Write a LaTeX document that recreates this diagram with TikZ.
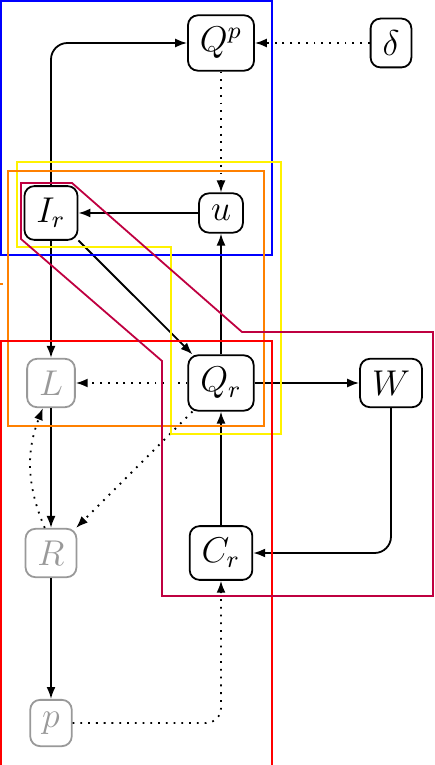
\documentclass[tikz,border=0pt]{standalone}
\usetikzlibrary{arrows.meta}
\begin{document}
\begin{tikzpicture}[x=0.0117647cm, y=0.0117647cm,
  box/.style={draw, semithick, rounded corners=3.3pt, inner sep=4pt, font=\large},
  ghost/.style={box, draw=black!40, text=black!40},
  arr/.style={-{Latex[length=4pt,width=3pt]}, semithick},
  dot/.style={arr, dotted},
  encl/.style={semithick}]
\useasboundingbox (0,0) rectangle (434,-765);
% nodes
\node[box] (Qp) at (221,-43) {$Q^p$};
\node[box] (d) at (391,-43) {$\delta$};
\node[box] (Ir) at (51,-213) {$I_r$};
\node[box] (u) at (221,-213) {$u$};
\node[ghost] (L) at (51,-383) {$L$};
\node[box] (Qr) at (221,-383) {$Q_r$};
\node[box] (W) at (391,-383) {$W$};
\node[ghost] (R) at (51,-553) {$R$};
\node[box] (Cr) at (221,-553) {$C_r$};
\node[ghost] (p) at (51,-723) {$p$};
% connectors
\draw[arr, rounded corners=5.5pt] (Ir) |- (Qp);
\draw[dot] (d) -- (Qp);
\draw[dot] (Qp) -- (u);
\draw[arr] (u) -- (Ir);
\draw[arr] (Qr) -- (u);
\draw[arr] (Ir) -- (Qr);
\draw[arr] (Ir) -- (L);
\draw[dot] (Qr) -- (L);
\draw[arr] (Qr) -- (W);
\draw[arr, rounded corners=5.5pt] (W) |- (Cr);
\draw[arr] (Cr) -- (Qr);
\draw[arr] (L) -- (R);
\draw[dot] (R.104) to[bend left=22] (L.252);
\draw[dot] (Qr) -- (R);
\draw[arr] (R) -- (p);
\draw[dot, rounded corners=5pt] (p) -| (Cr);
% enclosures
\draw[encl, blue] (1,-1) rectangle (272,-255);
\draw[encl, yellow] (17,-162) -- (281,-162) -- (281,-434) -- (171,-434) -- (171,-247) -- (17,-247) -- cycle;
\draw[encl, orange] (8,-171) rectangle (264,-426);
\draw[encl, orange] (0,-284) -- (3,-284);
\draw[encl, red] (1,-765) -- (1,-341) -- (272,-341) -- (272,-765);
\draw[encl, purple] (21,-183) -- (72,-183) -- (242,-332) -- (433,-332) -- (433,-596) -- (162,-596) -- (162,-361) -- (21,-239) -- cycle;
\end{tikzpicture}
\end{document}
